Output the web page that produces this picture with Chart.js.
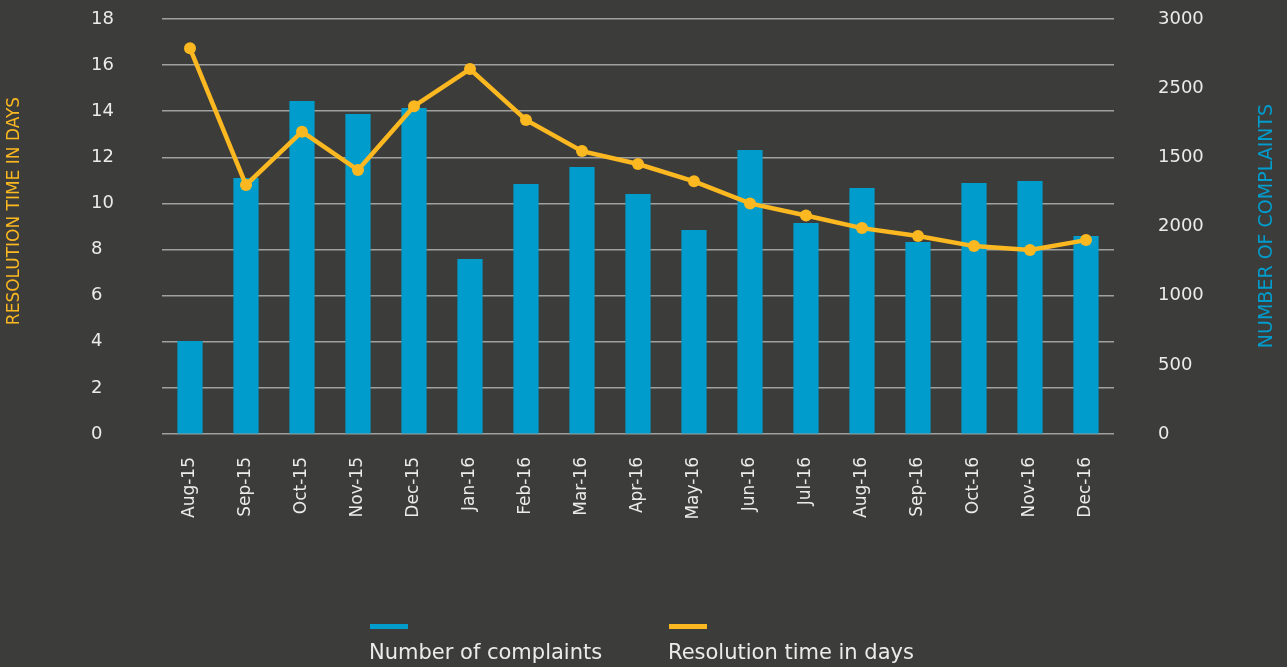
<!DOCTYPE html>
<html>
<head>
<meta charset="utf-8">
<script src="https://cdn.jsdelivr.net/npm/chart.js@4.4.1/dist/chart.umd.min.js"></script>
<style>
html,body{margin:0;padding:0;background:#3c3c3b;overflow:hidden}
#wrap{position:relative;width:1287px;height:667px}
canvas{display:block}
</style>
</head>
<body>
<div id="wrap"><canvas id="c" width="1287" height="667"></canvas></div>
<script>
const categories = ['Aug-15','Sep-15','Oct-15','Nov-15','Dec-15','Jan-16','Feb-16','Mar-16','Apr-16','May-16','Jun-16','Jul-16','Aug-16','Sep-16','Oct-16','Nov-16','Dec-16'];
const complaints = [672, 1851, 2408, 2313, 2357, 1265, 1807, 1930, 1735, 1475, 2053, 1525, 1778, 1388, 1814, 1829, 1431];
const resolutionDays = [16.73, 10.80, 13.11, 11.45, 14.22, 15.83, 13.62, 12.27, 11.71, 10.96, 10.00, 9.48, 8.93, 8.59, 8.15, 7.98, 8.41];
const rightTickLabels = ['0','500','1000','2000','1500','2500','3000'];
const seriesNames = ['Number of complaints','Resolution time in days'];
const leftTitle = 'RESOLUTION TIME IN DAYS';
const rightTitle = 'NUMBER OF COMPLAINTS';

const BLUE = '#009ccc';
const YELLOW = '#fbb820';
const TEXT = '#ebebeb';
const GRID = '#a0a0a0';
const FONT = '"DejaVu Sans", sans-serif';

const titlesPlugin = {
  id: 'axisTitles',
  afterDraw(chart) {
    const ctx = chart.ctx;
    ctx.save();
    ctx.textAlign = 'center';
    ctx.textBaseline = 'middle';
    ctx.fillStyle = YELLOW;
    ctx.font = '17px ' + FONT;
    ctx.translate(15, 211);
    ctx.rotate(-Math.PI / 2);
    ctx.fillText(leftTitle, 0, 0);
    ctx.restore();
    ctx.save();
    ctx.textAlign = 'center';
    ctx.textBaseline = 'middle';
    ctx.fillStyle = BLUE;
    ctx.font = '19px ' + FONT;
    ctx.translate(1267, 226);
    ctx.rotate(-Math.PI / 2);
    ctx.fillText(rightTitle, 0, 0);
    ctx.restore();
  }
};

const legendPlugin = {
  id: 'bottomLegend',
  afterDraw(chart) {
    const ctx = chart.ctx;
    const xs = [370, 669];
    ctx.save();
    chart.data.datasets.forEach((ds, i) => {
      ctx.fillStyle = ds.legendColor;
      ctx.fillRect(xs[i], 624, 38, 5);
      ctx.fillStyle = TEXT;
      ctx.font = '21px ' + FONT;
      ctx.textAlign = 'left';
      ctx.textBaseline = 'alphabetic';
      ctx.fillText(ds.label, xs[i] - 1, 659);
    });
    ctx.restore();
  }
};

new Chart(document.getElementById('c'), {
  type: 'bar',
  data: {
    labels: categories,
    datasets: [
      {
        type: 'bar',
        label: seriesNames[0],
        data: complaints,
        yAxisID: 'yCount',
        backgroundColor: BLUE,
        legendColor: BLUE,
        borderWidth: 0,
        barPercentage: 0.45,
        categoryPercentage: 1.0,
        order: 2
      },
      {
        type: 'line',
        label: seriesNames[1],
        data: resolutionDays,
        yAxisID: 'yDays',
        borderColor: YELLOW,
        backgroundColor: YELLOW,
        legendColor: YELLOW,
        borderWidth: 4.5,
        tension: 0,
        pointRadius: 6,
        pointBorderWidth: 0,
        pointBackgroundColor: YELLOW,
        fill: false,
        order: 1
      }
    ]
  },
  options: {
    responsive: false,
    animation: false,
    devicePixelRatio: 1,
    layout: { padding: { left: 91, top: 19, right: 0, bottom: 0 } },
    plugins: {
      legend: { display: false },
      tooltip: { enabled: false }
    },
    scales: {
      x: {
        type: 'category',
        offset: true,
        grid: { display: false, drawTicks: false },
        border: { display: false },
        ticks: {
          color: TEXT,
          font: { family: FONT, size: 17 },
          minRotation: 90,
          maxRotation: 90,
          autoSkip: false,
          padding: 23
        },
        afterFit(s) { s.height = 233; }
      },
      yDays: {
        type: 'linear',
        position: 'left',
        min: 0,
        max: 18,
        ticks: {
          stepSize: 2,
          color: TEXT,
          font: { family: FONT, size: 18 },
          crossAlign: 'far',
          padding: 3
        },
        grid: { color: GRID, lineWidth: 1.5, drawTicks: false },
        border: { display: false },
        afterFit(s) { s.width = 71; }
      },
      yCount: {
        type: 'linear',
        position: 'right',
        min: 0,
        max: 3000,
        ticks: {
          stepSize: 500,
          color: TEXT,
          font: { family: FONT, size: 18 },
          padding: 0,
          callback: (v) => rightTickLabels[Math.round(v / 500)]
        },
        grid: {
          display: true,
          drawOnChartArea: false,
          drawTicks: true,
          tickLength: 44,
          color: 'rgba(0,0,0,0)'
        },
        border: { display: false },
        afterFit(s) { s.width = 173; }
      }
    }
  },
  plugins: [titlesPlugin, legendPlugin]
});
</script>
</body>
</html>
